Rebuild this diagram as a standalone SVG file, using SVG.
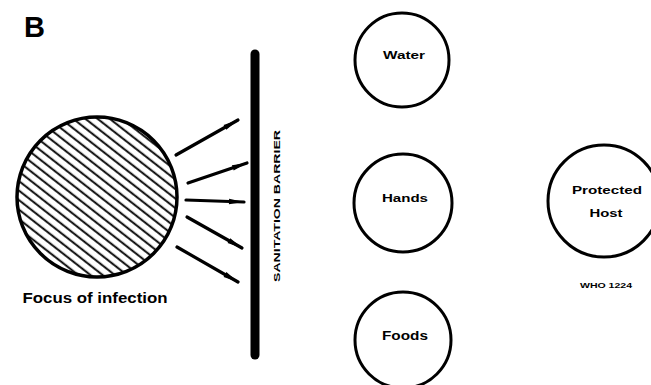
<svg xmlns="http://www.w3.org/2000/svg" width="651" height="385" viewBox="0 0 651 385">
<style>
.lbl{font-family:"Liberation Sans",Arial,sans-serif;font-weight:bold;fill:#000;text-anchor:middle}
.node{fill:#fff;stroke:#000;stroke-width:3}
.arr{stroke:#000;stroke-width:3.2;stroke-linecap:round;fill:none}
</style>
<defs>
<pattern id="hatch" patternUnits="userSpaceOnUse" width="8" height="7.5" patternTransform="rotate(38)">
<line x1="0" y1="3.5" x2="8" y2="3.5" stroke="#000" stroke-width="1.9"/>
</pattern>
<marker id="head" markerUnits="userSpaceOnUse" markerWidth="18" markerHeight="10" viewBox="-9 -5 18 10" refX="7" refY="0" orient="auto">
<path d="M-8,-2.8 L7,0 L-8,2.8 Z" fill="#000"/>
</marker>
</defs>
<rect width="651" height="385" fill="#fff"/>
<text x="24" y="37" font-family="Liberation Sans,Arial,sans-serif" font-weight="bold" font-size="29">B</text>

<g id="focus">
<circle cx="97" cy="197" r="80" fill="url(#hatch)" stroke="#000" stroke-width="3.5"/>
<text class="lbl" x="95" y="303" font-size="14" textLength="145" lengthAdjust="spacingAndGlyphs">Focus of infection</text>
</g>

<g id="barrier">
<line x1="255" y1="54" x2="255" y2="355" stroke="#000" stroke-width="9" stroke-linecap="round"/>
<text class="lbl" transform="translate(280,206) rotate(-90)" font-size="9.5" textLength="152" lengthAdjust="spacingAndGlyphs">SANITATION BARRIER</text>
</g>

<g id="connectors">
<line class="arr" x1="176" y1="155" x2="238" y2="120" marker-end="url(#head)"/>
<line class="arr" x1="188" y1="183" x2="247" y2="163" marker-end="url(#head)"/>
<line class="arr" x1="186" y1="200" x2="244" y2="202" marker-end="url(#head)"/>
<line class="arr" x1="187" y1="217" x2="242" y2="248" marker-end="url(#head)"/>
<line class="arr" x1="177" y1="247" x2="238" y2="282" marker-end="url(#head)"/>
</g>

<g id="water">
<circle class="node" cx="402" cy="60" r="47"/>
<text class="lbl" x="404" y="59" font-size="10" textLength="42" lengthAdjust="spacingAndGlyphs">Water</text>
</g>
<g id="hands">
<circle class="node" cx="403" cy="203" r="49"/>
<text class="lbl" x="405" y="202" font-size="11" textLength="46" lengthAdjust="spacingAndGlyphs">Hands</text>
</g>
<g id="foods">
<circle class="node" cx="403" cy="340" r="48"/>
<text class="lbl" x="405" y="340" font-size="13" textLength="46" lengthAdjust="spacingAndGlyphs">Foods</text>
</g>
<g id="host">
<circle class="node" cx="604" cy="201" r="56"/>
<text class="lbl" x="607" y="194" font-size="11" textLength="70" lengthAdjust="spacingAndGlyphs">Protected</text>
<text class="lbl" x="606" y="217" font-size="11" textLength="33" lengthAdjust="spacingAndGlyphs">Host</text>
</g>
<text class="lbl" x="606" y="288" font-size="8" textLength="52" lengthAdjust="spacingAndGlyphs">WHO 1224</text>
</svg>
